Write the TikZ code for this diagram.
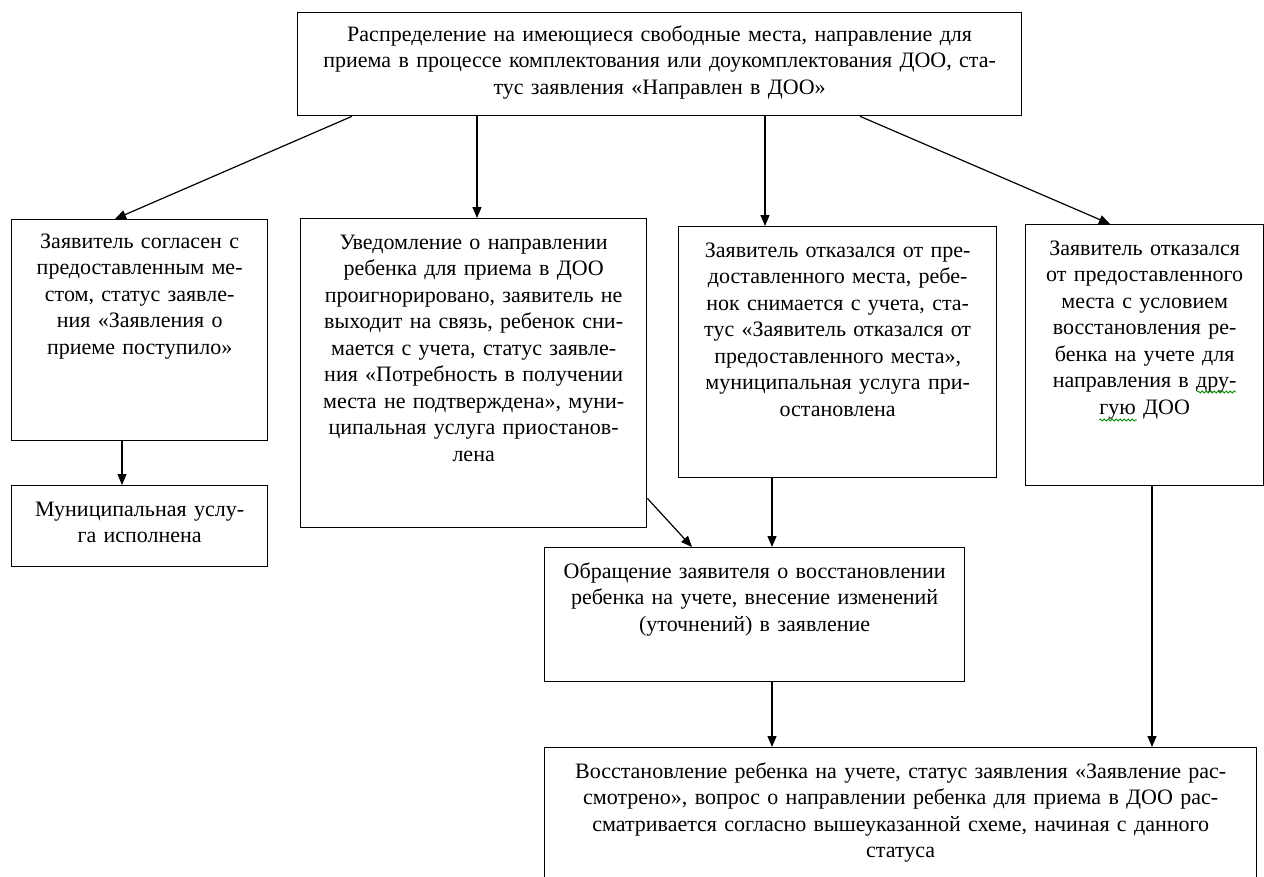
\documentclass[tikz,border=0pt]{standalone}
\usepackage{fontspec}
\setmainfont{Liberation Serif}
\usetikzlibrary{arrows.meta,decorations.pathmorphing}
\begin{document}
\begin{tikzpicture}[x=1pt,y=-1pt,
  box/.style={draw=black, line width=1.3pt, inner sep=0pt, anchor=north west},
  txt/.style={anchor=base, align=center, inner sep=0pt, font=\fontsize{22}{26.5}\selectfont},
  arr/.style={line width=1.2pt, -{Triangle[width=9pt,length=11pt]}},
  squig/.style={draw=green!55!black, line width=0.8pt, decorate, decoration={snake, amplitude=1pt, segment length=4pt}}]
\useasboundingbox[fill=white] (0,0) rectangle (1264,876);

% boxes
\node[box, minimum width=724pt, minimum height=103pt] (top) at (297,12) {};
\node[box, minimum width=256pt, minimum height=221pt] (b1) at (11,219) {};
\node[box, minimum width=256pt, minimum height=81pt] (b1b) at (11,485) {};
\node[box, minimum width=346pt, minimum height=309pt] (b2) at (300,218) {};
\node[box, minimum width=318pt, minimum height=251pt] (b3) at (678,226) {};
\node[box, minimum width=238pt, minimum height=261pt] (b4) at (1025,224) {};
\node[box, minimum width=420pt, minimum height=134pt] (b5) at (544,547) {};
\node[box, minimum width=712pt, minimum height=160pt] (b6) at (544,747) {};

% texts
\node[txt, text width=718pt] (topt) at ([shift={(0,29)}]top.north) {Распределение на имеющиеся свободные места, направление для\\приема в процессе комплектования или доукомплектования ДОО, ста-\\тус заявления «Направлен в ДОО»};
\node[txt, text width=250pt] (b1t) at ([shift={(0,29)}]b1.north) {Заявитель согласен с\\предоставленным ме-\\стом, статус заявле-\\ния «Заявления о\\приеме поступило»};
\node[txt, text width=250pt] (b1bt) at ([shift={(0,31)}]b1b.north) {Муниципальная услу-\\га исполнена};
\node[txt, text width=340pt] (b2t) at ([shift={(0,31)}]b2.north) {Уведомление о направлении\\ребенка для приема в ДОО\\проигнорировано, заявитель не\\выходит на связь, ребенок сни-\\мается с учета, статус заявле-\\ния «Потребность в получении\\места не подтверждена», муни-\\ципальная услуга приостанов-\\лена};
\node[txt, text width=312pt] (b3t) at ([shift={(0,31)}]b3.north) {Заявитель отказался от пре-\\доставленного места, ребе-\\нок снимается с учета, ста-\\тус «Заявитель отказался от\\предоставленного места»,\\муниципальная услуга при-\\остановлена};
\node[txt, text width=234pt] (b4t) at ([shift={(0,31)}]b4.north) {Заявитель отказался\\от предоставленного\\места с условием\\восстановления ре-\\бенка на учете для\\направления в дру-\\гую ДОО};
\node[txt, text width=414pt] (b5t) at ([shift={(0,31)}]b5.north) {Обращение заявителя о восстановлении\\ребенка на учете, внесение изменений\\(уточнений) в заявление};
\node[txt, text width=706pt] (b6t) at ([shift={(0,31)}]b6.north) {Восстановление ребенка на учете, статус заявления «Заявление рас-\\смотрено», вопрос о направлении ребенка для приема в ДОО рас-\\сматривается согласно вышеуказанной схеме, начиная с данного\\статуса};

% spell-check squiggles
\draw[squig] ([shift={(172,168)}]b4.north west) -- ([shift={(211,168)}]b4.north west);
\draw[squig] ([shift={(74,196)}]b4.north west) -- ([shift={(112,196)}]b4.north west);

% connectors
\draw[arr] ([shift={(55,0)}]top.south west) -- ([shift={(104,0)}]b1.north west);
\draw[arr] ([shift={(180,0)}]top.south west) -- ([shift={(177,0)}]b2.north west);
\draw[arr] ([shift={(468,0)}]top.south west) -- ([shift={(87,0)}]b3.north west);
\draw[arr] ([shift={(563,0)}]top.south west) -- ([shift={(85,0)}]b4.north west);
\draw[arr] ([shift={(111,0)}]b1.south west) -- ([shift={(111,0)}]b1b.north west);
\draw[arr] ([shift={(0,-30)}]b2.south east) -- ([shift={(148,0)}]b5.north west);
\draw[arr] ([shift={(94,0)}]b3.south west) -- ([shift={(228,0)}]b5.north west);
\draw[arr] ([shift={(228,0)}]b5.south west) -- ([shift={(228,0)}]b6.north west);
\draw[arr] ([shift={(127,0)}]b4.south west) -- ([shift={(608,0)}]b6.north west);
\end{tikzpicture}
\end{document}
